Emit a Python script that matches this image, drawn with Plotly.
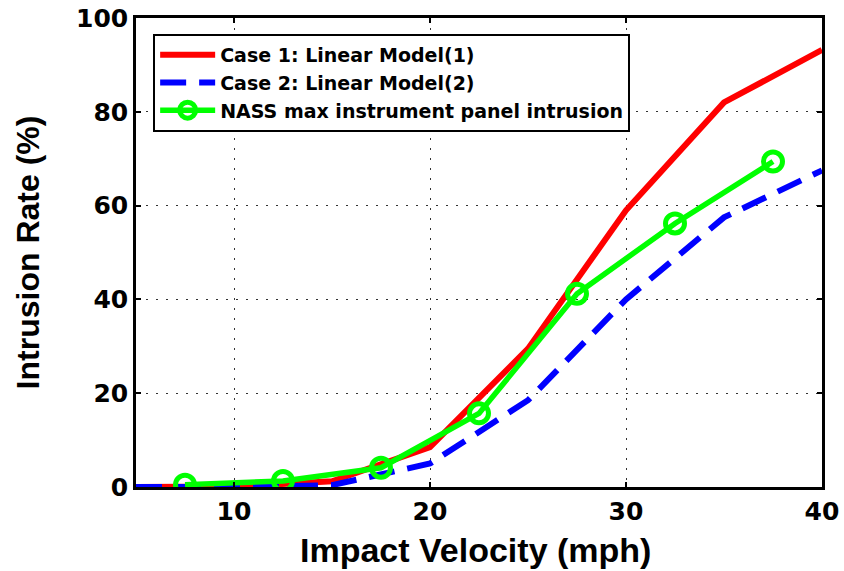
import plotly.graph_objects as go

vel_model = [5, 10, 15, 20, 25, 30, 35, 40]
case1 = [0, 0.1, 1.2, 8.5, 29.5, 59, 82, 93.2]
case2 = [0, 0, 0.4, 5, 18.5, 40, 57.5, 67.5]
vel_nass = [7.5, 12.5, 17.5, 22.5, 27.5, 32.5, 37.5]
nass = [0.5, 1.3, 4.1, 15.7, 41.2, 56.2, 69.4]

fig = go.Figure()
fig.add_trace(go.Scatter(x=vel_model, y=case1, mode="lines", name="Case 1: Linear Model(1)",
                         line=dict(color="#ff0000", width=6)))
fig.add_trace(go.Scatter(x=vel_model, y=case2, mode="lines", name="Case 2: Linear Model(2)",
                         line=dict(color="#0000ff", width=6, dash="26px,13px")))
fig.add_trace(go.Scatter(x=vel_nass, y=nass, mode="lines+markers",
                         name="NASS max instrument panel intrusion",
                         line=dict(color="#00ff00", width=5.5),
                         marker=dict(symbol="circle-open", size=19, color="#00ff00",
                                     line=dict(width=5, color="#00ff00"))))

axis_common = dict(
    showline=True, linecolor="black", linewidth=2.5, mirror="ticks",
    ticks="inside", ticklen=5, tickwidth=1.5, tickcolor="black",
    showgrid=True, gridcolor="#333333", griddash="2px,8px", gridwidth=1.2,
    zeroline=False, automargin=False,
    tickfont=dict(family="DejaVu Sans", size=25, color="black", weight="bold"),
)

fig.update_xaxes(range=[5, 40], tickvals=[10, 20, 30, 40], **axis_common)
fig.update_yaxes(range=[0, 100], tickvals=[0, 20, 40, 60, 80, 100],
                 title=dict(text="Intrusion Rate (%)", standoff=27,
                            font=dict(family="Liberation Sans", size=32, color="black", weight="bold")),
                 **axis_common)

fig.add_annotation(text="Impact Velocity (mph)", xref="paper", yref="paper",
                   x=0.495, y=-0.134, xanchor="center", yanchor="middle", showarrow=False,
                   font=dict(family="Liberation Sans", size=34, color="black", weight="bold"))

fig.update_layout(
    width=844, height=571,
    margin=dict(l=136, r=22, t=18, b=84),
    plot_bgcolor="white", paper_bgcolor="white",
    showlegend=True,
    legend=dict(x=0.025, y=0.966, xanchor="left", yanchor="top",
                bgcolor="white", bordercolor="black", borderwidth=2,
                font=dict(family="DejaVu Sans", size=19, color="black", weight="bold"),
                tracegroupgap=0, itemwidth=55),
)

fig.write_html("out.html")
